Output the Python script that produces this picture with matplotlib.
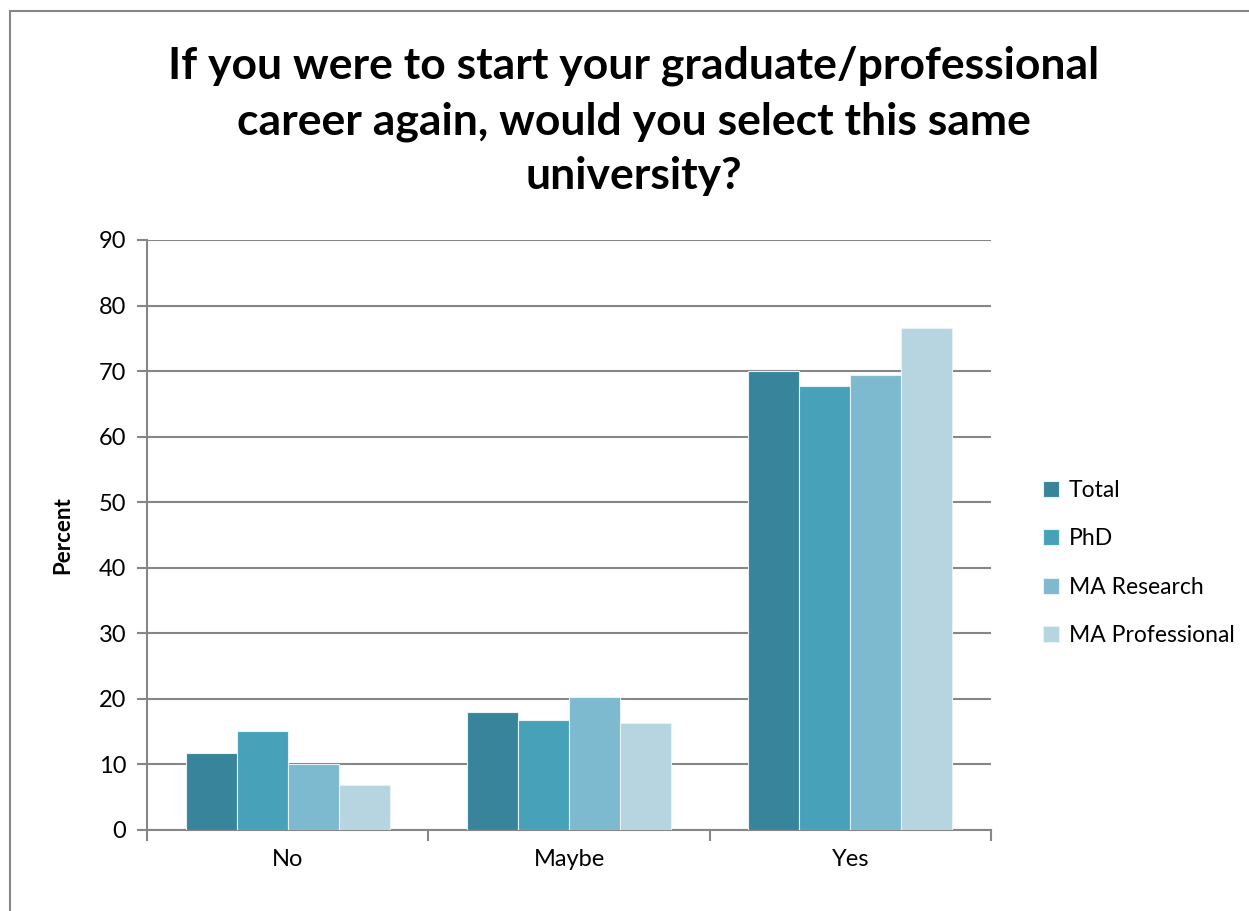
import matplotlib
matplotlib.use("Agg")
import matplotlib.pyplot as plt
import numpy as np
from matplotlib.patches import Rectangle

categories = ["No", "Maybe", "Yes"]
series_names = ["Total", "PhD", "MA Research", "MA Professional"]
total = [11.8, 18.0, 70.0]
phd = [15.1, 16.8, 67.8]
ma_research = [10.0, 20.3, 69.4]
ma_professional = [6.9, 16.3, 76.6]
yticks = [0, 10, 20, 30, 40, 50, 60, 70, 80, 90]
title = "If you were to start your graduate/professional\ncareer again, would you select this same\nuniversity?"
ylabel = "Percent"

colors = ["#38849A", "#47A1B9", "#7DB9CF", "#B6D5E0"]
grid_c = "#868686"

plt.rcParams['font.family'] = ['Lato', 'DejaVu Sans']

fig = plt.figure(figsize=(12.49, 9.11), dpi=100)
W, H = 1249, 911
ax = fig.add_axes([147 / W, 1 - 830 / H, (991 - 147) / W, (830 - 240) / H])

series = [total, phd, ma_research, ma_professional]
n = len(series)
group_w = 0.726
bw = group_w / n
x = np.arange(len(categories))
for i, (vals, c, name) in enumerate(zip(series, colors, series_names)):
    offs = -group_w / 2 + bw * (i + 0.5)
    ax.bar(x + offs, vals, width=bw, color=c, edgecolor="#E8F2F5", linewidth=0.8,
           label=name, zorder=3)

ax.set_xlim(-0.5, len(categories) - 0.5)
ax.set_ylim(0, 90)
ax.set_yticks(yticks)
ax.set_yticklabels([str(t) for t in yticks], fontsize=17)
ax.set_xticks(x)
ax.set_xticklabels(categories, fontsize=17)
ax.tick_params(axis='x', length=0, pad=14)
ax.tick_params(axis='y', length=7, width=1.5, color=grid_c, pad=8)
# category boundary ticks
ax.set_xticks(np.arange(len(categories) + 1) - 0.5, minor=True)
ax.tick_params(axis='x', which='minor', length=8, width=1.5, color=grid_c)
ax.grid(axis='y', color=grid_c, linewidth=1.5, zorder=0)
for s in ["top", "right"]:
    ax.spines[s].set_visible(False)
for s in ["left", "bottom"]:
    ax.spines[s].set_color(grid_c)
    ax.spines[s].set_linewidth(1.5)
ax.set_ylabel(ylabel, fontsize=16, fontweight='bold', labelpad=18)

fig.text(634 / W, 1 - 121 / H, title, ha='center', va='center', fontsize=32,
         fontweight='bold', linespacing=1.45)

leg = fig.legend(loc='center left', bbox_to_anchor=(1022 / W, 1 - 563 / H),
                 frameon=False, fontsize=16.5, handlelength=0.7, handleheight=0.7,
                 handletextpad=0.45, labelspacing=1.2)

# outer border
fig.patches.append(Rectangle((10 / W, -0.1), 1.2, 1 - 11 / H + 0.1,
                             transform=fig.transFigure, fill=False,
                             edgecolor=grid_c, linewidth=1.5))

fig.savefig("out.png", dpi=100, facecolor="white")
